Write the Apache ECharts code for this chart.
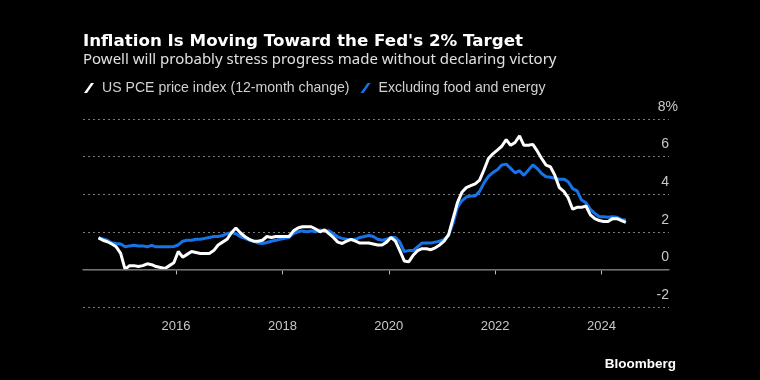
<!DOCTYPE html>
<html>
<head>
<meta charset="utf-8">
<script src="https://cdn.jsdelivr.net/npm/echarts@6/dist/echarts.min.js"></script>
<style>
html,body{margin:0;padding:0;background:#000;}
#c{width:760px;height:380px;}
</style>
</head>
<body>
<div id="c"></div>
<script>
// Monthly data, July 2014 - June 2024
const startYear = 2014;
const startMonth = 7;
const seriesNames = ['US PCE price index (12-month change)', 'Excluding food and energy'];
const headline = [
  1.68, 1.55, 1.47, 1.35, 1.2, 0.85,
  0.0, 0.2, 0.2, 0.15, 0.2, 0.3, 0.25, 0.15, 0.1, 0.05, 0.2, 0.35,
  0.95, 0.65, 0.8, 0.95, 0.9, 0.85, 0.85, 0.85, 1.0, 1.3, 1.45, 1.6,
  1.95, 2.2, 1.95, 1.75, 1.6, 1.5, 1.5, 1.55, 1.75, 1.7, 1.75, 1.75,
  1.75, 1.75, 2.05, 2.2, 2.27, 2.27, 2.27, 2.15, 2.0, 2.1, 1.9, 1.7,
  1.45, 1.38, 1.5, 1.6, 1.5, 1.4, 1.4, 1.4, 1.35, 1.3, 1.3, 1.45,
  1.7, 1.5, 1.0, 0.45, 0.4, 0.75, 1.0, 1.1, 1.1, 1.05, 1.15, 1.3,
  1.5, 1.85, 2.7, 3.55, 4.1, 4.35, 4.45, 4.55, 4.75, 5.3, 5.9, 6.15,
  6.35, 6.55, 6.9, 6.6, 6.75, 7.1, 6.6, 6.6, 6.65, 6.3, 5.9, 5.55,
  5.45, 5.0, 4.35, 4.15, 3.8, 3.2, 3.3, 3.3, 3.37, 2.9, 2.7, 2.6,
  2.55, 2.55, 2.7, 2.7, 2.6, 2.5
];
const core = [
  1.68, 1.62, 1.55, 1.42, 1.38, 1.35,
  1.2, 1.25, 1.28, 1.25, 1.25, 1.2, 1.28, 1.2, 1.2, 1.2, 1.2, 1.22,
  1.3, 1.5, 1.55, 1.55, 1.6, 1.6, 1.65, 1.7, 1.75, 1.75, 1.8, 1.9,
  1.95, 1.9, 1.75, 1.65, 1.56, 1.5, 1.4, 1.38, 1.43, 1.5, 1.55, 1.6,
  1.65, 1.7, 1.9, 2.0, 2.05, 2.0, 2.05, 2.0, 2.1, 2.05, 2.05, 1.9,
  1.72, 1.65, 1.6, 1.58, 1.6, 1.7, 1.75, 1.8, 1.75, 1.6, 1.55, 1.6,
  1.7, 1.7, 1.45, 0.95, 1.0, 1.0, 1.2, 1.4, 1.4, 1.4, 1.45, 1.5,
  1.6, 1.8, 2.45, 3.3, 3.65, 3.85, 3.9, 3.9, 4.15, 4.6, 4.95, 5.15,
  5.3, 5.55, 5.6, 5.37, 5.14, 5.25, 5.0, 5.28, 5.55, 5.37, 5.1, 4.93,
  4.9, 4.84, 4.8, 4.8, 4.66, 4.3, 4.18, 3.69, 3.54, 3.19, 2.98, 2.8,
  2.8, 2.77, 2.8, 2.77, 2.66, 2.63
];
const xTicks = [2016, 2018, 2020, 2022, 2024];
const yMin = -2, yMax = 8, yStep = 2;
const titleText = 'Inflation Is Moving Toward the Fed\'s 2% Target';
const subtitleText = 'Powell will probably stress progress made without declaring victory';
const sourceText = 'Bloomberg';

// month positions (mid-month, in decimal years)
const months = headline.map((_, i) => startYear + (startMonth - 1 + i + 0.5) / 12);
const pair = arr => arr.map((v, i) => [months[i], v]);

const FONT = '"Liberation Sans", Arial, sans-serif';
const TFONT = '"DejaVu Sans", sans-serif';
const SFONT = '"Noto Sans", "Liberation Sans", sans-serif';
const chart = echarts.init(document.getElementById('c'), null, {renderer: 'canvas'});
const slash = 'path://M0,10 L7,0 L10,0 L3,10 Z';

chart.setOption({
  backgroundColor: '#000',
  animation: false,
  textStyle: {fontFamily: FONT},
  title: {
    text: titleText,
    subtext: subtitleText,
    left: 83, top: 33, padding: 0,
    itemGap: 2,
    textStyle: {color: '#fff', fontSize: 16.7, fontWeight: 'bold', fontFamily: TFONT},
    subtextStyle: {color: '#e0e0e0', fontSize: 15, fontFamily: SFONT}
  },
  legend: {
    left: 84, top: 81, padding: 0,
    itemWidth: 10, itemHeight: 10, itemGap: 11,
    icon: slash,
    textStyle: {color: '#d0d0d0', fontSize: 14.1, fontFamily: FONT, padding: [0, 0, 0, 3]},
    data: [seriesNames[0], seriesNames[1]]
  },
  graphic: [{
    type: 'text', right: 84, top: 357,
    style: {text: sourceText, fill: '#fff', font: 'bold 13.5px ' + FONT}
  }],
  grid: {left: 83, right: 91, top: 119, bottom: 73, containLabel: false},
  xAxis: {
    type: 'value', min: 2014.25, max: 2025.27,
    splitLine: {show: false},
    axisLine: {show: true, lineStyle: {color: '#bdbdbd', width: 1}},
    axisTick: {show: true, customValues: xTicks, length: 5, lineStyle: {color: '#bdbdbd'}},
    axisLabel: {customValues: xTicks, color: '#c8c8c8', fontSize: 13, margin: 13, formatter: v => String(v)}
  },
  yAxis: {
    type: 'value', position: 'right', min: yMin, max: yMax, interval: yStep,
    axisLine: {show: false}, axisTick: {show: false},
    splitLine: {show: true, lineStyle: {color: '#7a7a7a', type: [2, 3], width: 1}},
    axisLabel: {
      inside: true, margin: -9, color: '#c8c8c8', fontSize: 14,
      verticalAlign: 'bottom', padding: [0, 0, 5, 0],
      formatter: v => v === yMax ? '{n|' + v + '}{p|%}' : '{n|' + v + '}{s|}',
      rich: {
        n: {color: '#c8c8c8', fontSize: 14, fontFamily: FONT},
        p: {color: '#c8c8c8', fontSize: 14, fontFamily: FONT},
        s: {width: 9}
      }
    }
  },
  series: [
    {
      name: seriesNames[1], type: 'line', data: pair(core), showSymbol: false, symbol: 'none',
      lineStyle: {color: '#1673ea', width: 3}, itemStyle: {color: '#1673ea'}, z: 3,
      markLine: {silent: true, symbol: 'none', label: {show: false},
        lineStyle: {color: '#5a5a5a', type: 'solid', width: 1.5}, data: [{yAxis: 0}]}
    },
    {
      name: seriesNames[0], type: 'line', data: pair(headline), showSymbol: false, symbol: 'none',
      lineStyle: {color: '#ffffff', width: 3}, itemStyle: {color: '#ffffff'}, z: 4
    }
  ]
});
</script>
</body>
</html>
